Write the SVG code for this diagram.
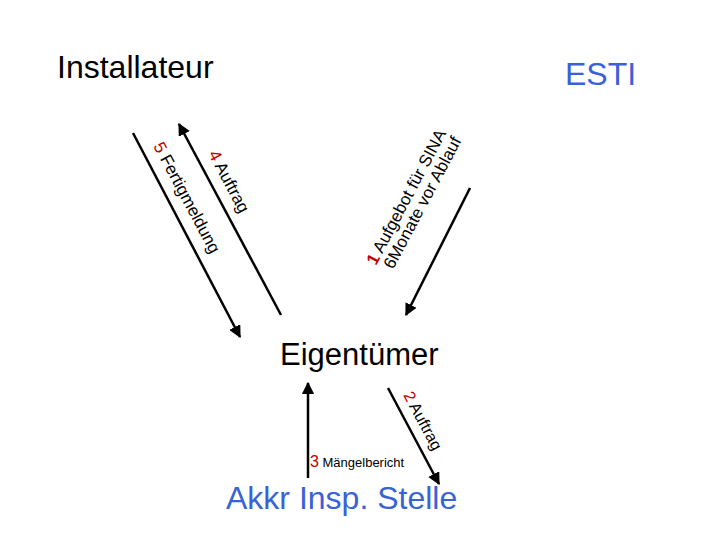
<svg xmlns="http://www.w3.org/2000/svg" width="720" height="540" viewBox="0 0 720 540">
<style>
text{font-family:"Liberation Sans",Arial,sans-serif}
.t{fill:#000}
.b{fill:#3a62d8}
.r{fill:#c00000}
.l{stroke:#000;stroke-width:2.5;fill:none;marker-end:url(#ah)}
.s{font-size:17px}
</style>
<defs><marker id="ah" viewBox="0 0 10 10" refX="9" refY="5" markerWidth="5" markerHeight="5" orient="auto"><path d="M0,0 L10,5 L0,10 Z" fill="#000"/></marker></defs>
<rect width="720" height="540" fill="#fff"/>
<g id="installateur"><text x="57" y="78" font-size="32" class="t">Installateur</text></g>
<g id="esti"><text x="565" y="85" font-size="32" class="b">ESTI</text></g>
<g id="eigentuemer"><text x="280" y="365" font-size="31" class="t">Eigentümer</text></g>
<g id="akkr"><text x="226" y="509" font-size="32" class="b">Akkr Insp. Stelle</text></g>
<g id="connectors">
<line class="l" x1="133" y1="133" x2="240" y2="337"/>
<line class="l" x1="281" y1="315" x2="179" y2="124"/>
<line class="l" x1="470" y1="188" x2="406" y2="315"/>
<line class="l" x1="308" y1="478" x2="308" y2="383"/>
<line class="l" x1="388" y1="388" x2="439" y2="484"/>
</g>
<g id="labels">
<text class="s" transform="translate(153,146) rotate(62)"><tspan class="r">5</tspan> Fertigmeldung</text>
<text class="s" transform="translate(208,154) rotate(62)"><tspan class="r">4</tspan> Auftrag</text>
<text class="s" transform="translate(376,266) rotate(-62)"><tspan class="r" font-weight="bold">1</tspan> Aufgebot für SINA</text>
<text class="s" transform="translate(393,270) rotate(-62)">6Monate vor Ablauf</text>
<text font-size="16" transform="translate(403,395) rotate(62)"><tspan class="r">2</tspan> Auftrag</text>
<text x="310" y="467" font-size="13"><tspan class="r" font-size="16">3</tspan> Mängelbericht</text>
</g>
</svg>
